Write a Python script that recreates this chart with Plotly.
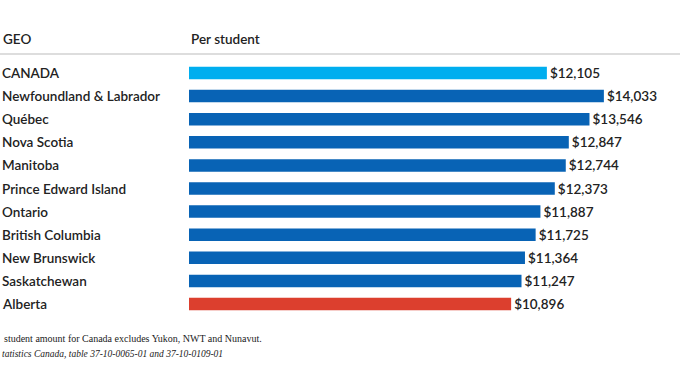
import plotly.graph_objects as go

regions = ["CANADA", "Newfoundland & Labrador", "Québec", "Nova Scotia", "Manitoba",
           "Prince Edward Island", "Ontario", "British Columbia", "New Brunswick",
           "Saskatchewan", "Alberta"]
per_student = [12105, 14033, 13546, 12847, 12744, 12373, 11887, 11725, 11364, 11247, 10896]
bar_colors = ["#00AEEF"] + ["#0863B5"] * 9 + ["#DC3F2E"]
header_geo = "GEO"
header_val = "Per student"
note_1 = "student amount for Canada excludes Yukon, NWT and Nunavut."
note_2 = "tatistics Canada, table 37-10-0065-01 and 37-10-0109-01"

W, H = 680, 383
row_top, row_step = 73, 23.1
n = len(regions)
y_lo = -row_top / row_step
y_hi = (n - 1) + (H - (row_top + (n - 1) * row_step)) / row_step
px_per_dollar = (605 - 548) / (14033 - 12105)
x_max = (W - 189) / px_per_dollar

label_font = dict(family="Lato", size=13.5, color="#222222", weight=600)

fig = go.Figure(go.Bar(
    x=per_student, y=list(range(n)), orientation="h",
    marker=dict(color=bar_colors, line=dict(width=0)),
    width=0.54,
    text=[f"${v:,}" for v in per_student],
    textposition="outside", cliponaxis=False, constraintext="none",
    textfont=label_font,
    hoverinfo="skip",
))

annotations = []
for i, r in enumerate(regions):
    annotations.append(dict(x=0, xref="paper", y=i, yref="y", text=r, showarrow=False,
                            xanchor="left", yanchor="middle", font=label_font))
annotations += [
    dict(x=1 / W, xref="paper", y=1 - 39 / H, yref="paper", text=header_geo, showarrow=False,
         xanchor="left", yanchor="middle", font=label_font),
    dict(x=189 / W, xref="paper", y=1 - 39 / H, yref="paper", text=header_val, showarrow=False,
         xanchor="left", yanchor="middle", font=label_font),
    dict(x=2 / W, xref="paper", y=1 - 338 / H, yref="paper", text=note_1, showarrow=False,
         xanchor="left", yanchor="middle",
         font=dict(family="Liberation Serif", size=10, color="#222222")),
    dict(x=0, xref="paper", y=1 - 354 / H, yref="paper", text="<i>" + note_2 + "</i>", showarrow=False,
         xanchor="left", yanchor="middle",
         font=dict(family="Liberation Serif", size=9.5, color="#222222")),
]

fig.update_layout(
    width=W, height=H,
    margin=dict(l=0, r=0, t=0, b=0),
    paper_bgcolor="white", plot_bgcolor="white",
    showlegend=False,
    xaxis=dict(domain=[189 / W, 1], range=[0, x_max], visible=False, fixedrange=True),
    yaxis=dict(range=[y_hi, y_lo], visible=False, fixedrange=True),
    annotations=annotations,
    shapes=[dict(type="line", xref="paper", yref="paper", x0=0, x1=1,
                 y0=1 - 54 / H, y1=1 - 54 / H, line=dict(color="#dddddd", width=2))],
)

fig.write_html("out.html", config={"displayModeBar": False},
               post_script="document.body.style.margin='0';document.body.style.overflow='hidden';")
